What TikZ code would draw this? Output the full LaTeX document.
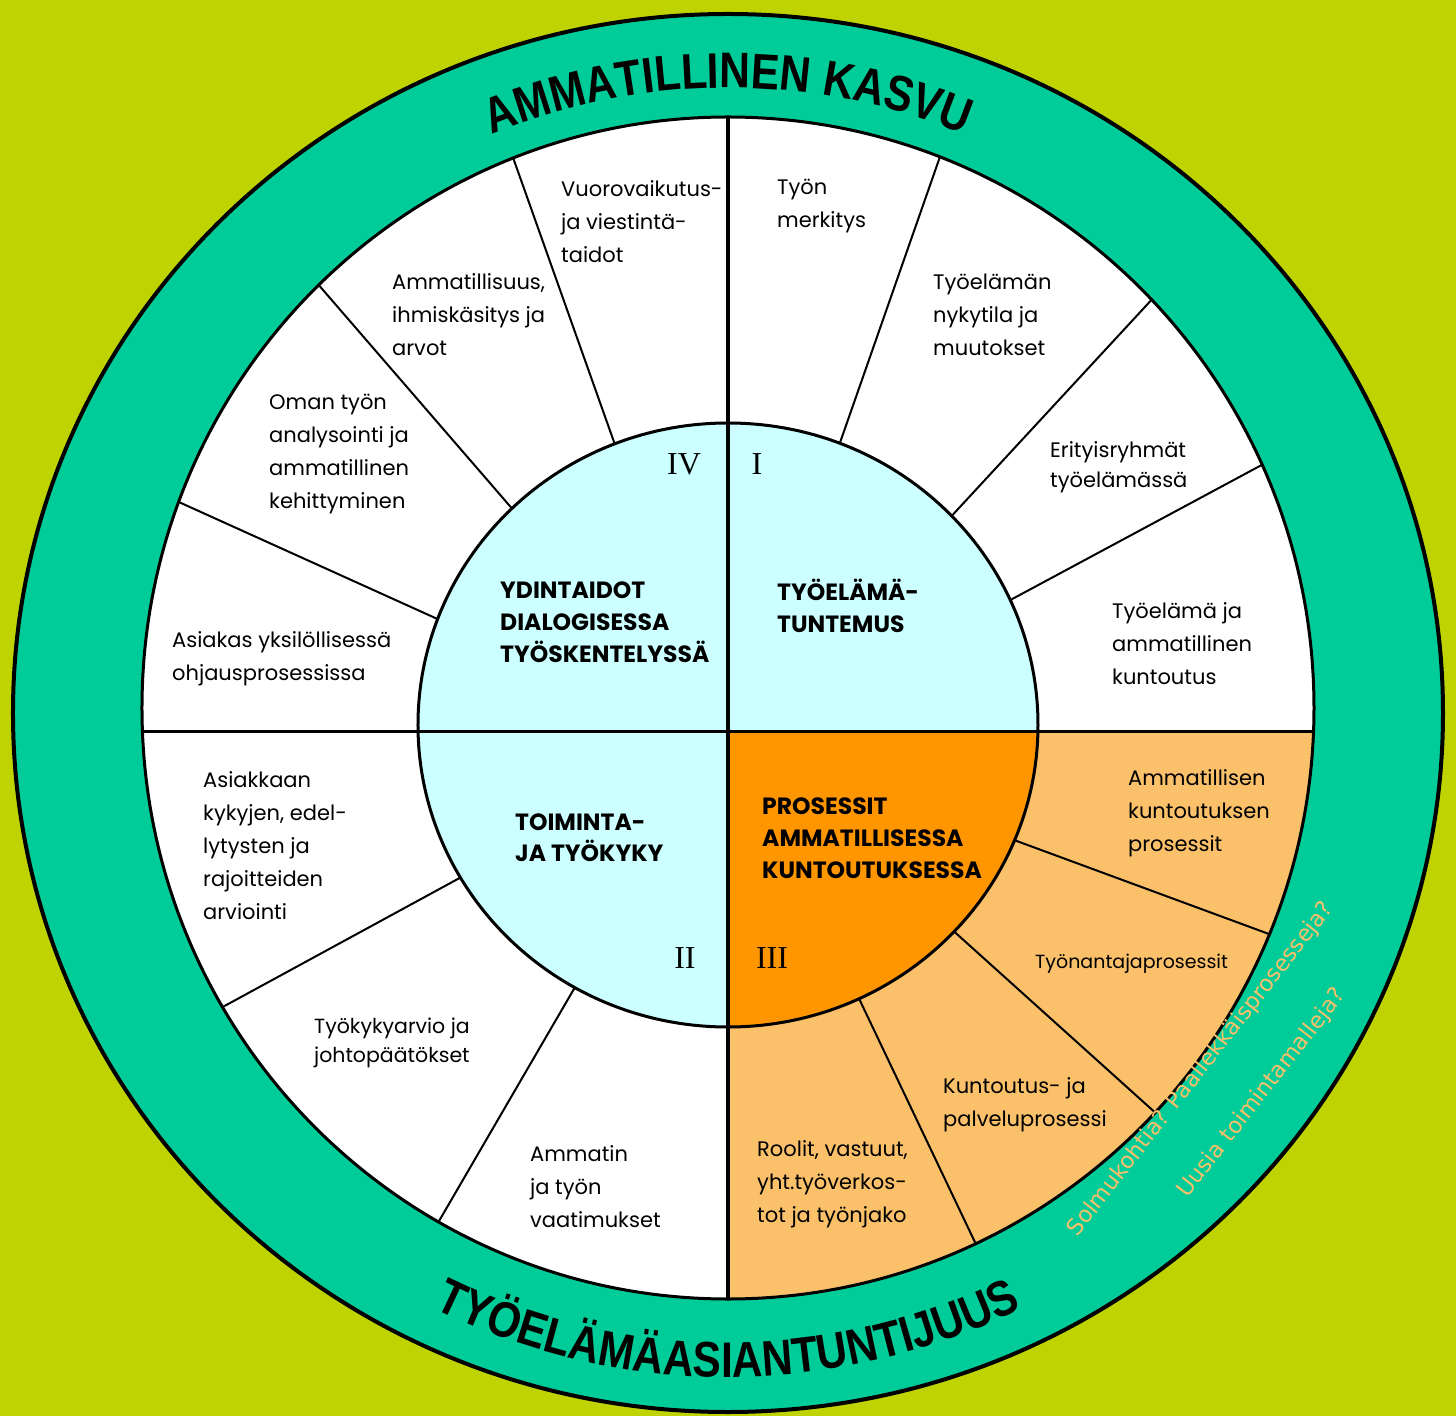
\documentclass[tikz,border=0pt]{standalone}
\usepackage{fontspec}
\usetikzlibrary{decorations.text}
\newfontfamily\segfont{Poppins}
\newfontfamily\ringfont[FakeStretch=0.85]{Liberation Sans}
\newfontfamily\notefont{DejaVu Sans}
\newfontfamily\numfont{Liberation Serif}

\definecolor{bgolive}{RGB}{190,211,0}
\definecolor{ringteal}{RGB}{0,204,153}
\definecolor{corecyan}{RGB}{204,255,255}
\definecolor{coreorange}{RGB}{255,150,0}
\definecolor{peach}{RGB}{251,192,106}

\begin{document}
\begin{tikzpicture}[x=1pt,y=1pt,
    seg/.style={anchor=west, align=left, inner sep=0pt, font=\segfont\fontsize{21}{33}\selectfont},
    core/.style={anchor=west, align=left, inner sep=0pt, font=\segfont\bfseries\fontsize{23.5}{32}\selectfont},
    numeral/.style={inner sep=0pt, font=\numfont\fontsize{32}{32}\selectfont},
    note/.style={anchor=base, inner sep=0pt, rotate=52, text=peach, font=\notefont\fontsize{22.5}{22.5}\selectfont},
    spoke/.style={line width=2pt},
    rim/.style={line width=3pt}]
\useasboundingbox (-728,-684) rectangle (728,732);
\fill[bgolive] (-728,-684) rectangle (728,732);

% outer ring and segment disc
\filldraw[fill=ringteal, line width=4pt] (0,19) ellipse [x radius=715, y radius=699];
\fill[white] (0,24) ellipse [x radius=586, y radius=591];
\begin{scope}
  \clip (0,0) rectangle (620,-620);
  \fill[peach] (0,24) ellipse [x radius=586, y radius=591];
\end{scope}

% spokes
\foreach \a in {68.8,43.7,24.3,111.5,134.3,159.6,210.4,240.4,337.5,316.8,295}
  \draw[spoke] ([shift={(0,7)}]\a:300 and 292) -- ([shift={(0,24)}]\a:586 and 591);
\draw[rim] (0,24) ellipse [x radius=586, y radius=591];

% core disc
\fill[corecyan] (0,7) ellipse [x radius=310, y radius=302];
\begin{scope}
  \clip (0,0) rectangle (620,-620);
  \fill[coreorange] (0,7) ellipse [x radius=310, y radius=302];
\end{scope}
\draw[rim] (0,7) ellipse [x radius=310, y radius=302];
\draw[rim] (0,615) -- (0,-567);
\draw[rim] (-586,0) -- (586,0);

% ring texts
\path[decorate, decoration={text along path, text align=center,
    text={|\ringfont\bfseries\fontsize{50}{50}\selectfont|AMMATILLINEN KASVU}}]
  (0,19) ++(160:625) arc[start angle=160, end angle=20, radius=625];
\path[decorate, decoration={text along path, text align=center,
    text={|\ringfont\bfseries\fontsize{50}{50}\selectfont|TYÖELÄMÄASIANTUNTIJUUS}}]
  (0,19) ++(200:664) arc[start angle=200, end angle=340, radius=664];

% quarter I
\node[numeral] (numI) at (29,268) {I};
\node[core] (tuntemus) at (49,126) {TYÖELÄMÄ-\\TUNTEMUS};
\node[seg] (merkitys) at (49,526) {Työn\\merkitys};
\node[seg] (nykytila) at (205,417) {Työelämän\\nykytila ja\\muutokset};
\node[seg, font=\segfont\fontsize{21}{30}\selectfont] (erityis) at (322,265) {Erityisryhmät\\työelämässä};
\node[seg] (kuntoutus) at (384,88) {Työelämä ja\\ammatillinen\\kuntoutus};

% quarter IV
\node[numeral] (numIV) at (-44,268) {IV};
\node[core] (ydin) at (-228,109.5) {YDINTAIDOT\\DIALOGISESSA\\TYÖSKENTELYSSÄ};
\node[seg] (vuoro) at (-167,510) {Vuorovaikutus-\\ja viestintä-\\taidot};
\node[seg] (arvot) at (-336,417) {Ammatillisuus,\\ihmiskäsitys ja\\arvot};
\node[seg] (oman) at (-459,278) {Oman työn\\analysointi ja\\ammatillinen\\kehittyminen};
\node[seg] (asiakas) at (-556,73.5) {Asiakas yksilöllisessä\\ohjausprosessissa};

% quarter II
\node[numeral] (numII) at (-43,-226) {II};
\node[core, font=\segfont\bfseries\fontsize{23.5}{31}\selectfont] (toiminta) at (-213,-105.5) {TOIMINTA-\\JA TYÖKYKY};
\node[seg] (kykyjen) at (-525,-114) {Asiakkaan\\kykyjen, edel-\\lytysten ja\\rajoitteiden\\arviointi};
\node[seg, font=\segfont\fontsize{20.5}{29}\selectfont] (tyokyky) at (-414,-310.5) {Työkykyarvio ja\\johtopäätökset};
\node[seg] (vaatimus) at (-198,-455) {Ammatin\\ja työn\\vaatimukset};

% quarter III
\node[numeral] (numIII) at (44,-226) {III};
\node[core] (prosessit) at (34,-106) {PROSESSIT\\AMMATILLISESSA\\KUNTOUTUKSESSA};
\node[seg] (ammpros) at (400,-81) {Ammatillisen\\kuntoutuksen\\prosessit};
\node[seg, font=\segfont\fontsize{19}{29}\selectfont] (tyonantaja) at (307,-232) {Työnantajaprosessit};
\node[seg] (palvelu) at (215,-373) {Kuntoutus- ja\\palveluprosessi};
\node[seg] (roolit) at (29,-452) {Roolit, vastuut,\\yht.työverkos-\\tot ja työnjako};

% questions on the ring
\node[note] (solmu) at (478,-341) {Solmukohtia? Päällekkäisprosesseja?};
\node[note] (uusia) at (539,-365) {Uusia toimintamalleja?};
\end{tikzpicture}
\end{document}
